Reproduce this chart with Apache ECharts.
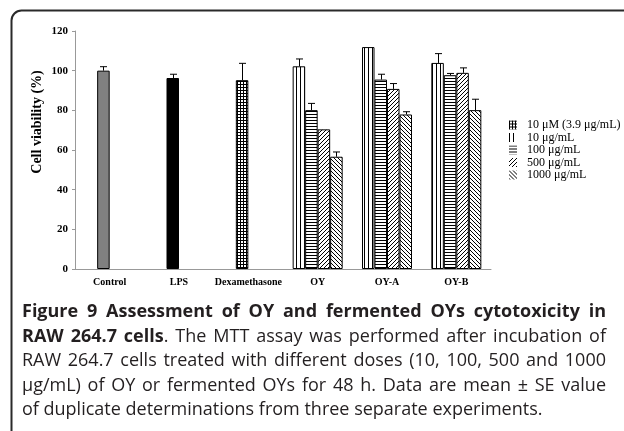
<!DOCTYPE html>
<html>
<head>
<meta charset="utf-8">
<script src="https://cdn.jsdelivr.net/npm/echarts@6/dist/echarts.min.js"></script>
<style>
  html, body { margin: 0; padding: 0; background: #fff; }
  #chart { position: absolute; left: 0; top: 0; width: 624px; height: 431px; }
  .caption {
    position: absolute; left: 22px; top: 298px; width: 584px;
    font-family: "Open Sans", sans-serif; font-size: 18px; line-height: 24.5px; color: #231f20;
  }
  .caption div { text-align: justify; text-align-last: justify; white-space: nowrap; }
  .caption div.last { text-align-last: left; }
  .caption b { font-weight: bold; }
</style>
</head>
<body>
<div id="chart"></div>
<div class="caption">
  <div><b>Figure 9 Assessment of OY and fermented OYs cytotoxicity in</b></div>
  <div><b>RAW 264.7 cells</b>. The MTT assay was performed after incubation of</div>
  <div>RAW 264.7 cells treated with different doses (10, 100, 500 and 1000</div>
  <div>μg/mL) of OY or fermented OYs for 48 h. Data are mean ± SE value</div>
  <div class="last">of duplicate determinations from three separate experiments.</div>
</div>
<script>
// data
const categories = ['Control', 'LPS', 'Dexamethasone', 'OY', 'OY-A', 'OY-B']
const yTicks = { min: 0, max: 120, interval: 20 }
const legendNames = ['10 μM (3.9 μg/mL)', '10 μg/mL', '100 μg/mL', '500 μg/mL', '1000 μg/mL']

const controlMean = [100.0, 96.3, '-', '-', '-', '-']
const controlSE = [2.0, 1.9, '-', '-', '-', '-']
const dexMean = ['-', '-', 95.2, '-', '-', '-']
const dexSE = ['-', '-', 8.5, '-', '-', '-']
const dose10Mean = ['-', '-', '-', 102.2, 111.9, 103.9]
const dose10SE = ['-', '-', '-', 3.7, 0, 4.7]
const dose100Mean = ['-', '-', '-', 80.1, 95.5, 97.7]
const dose100SE = ['-', '-', '-', 3.4, 2.7, 0.9]
const dose500Mean = ['-', '-', '-', 70.4, 90.8, 98.9]
const dose500SE = ['-', '-', '-', 0, 2.7, 2.5]
const dose1000Mean = ['-', '-', '-', 56.6, 77.9, 80.1]
const dose1000SE = ['-', '-', '-', 2.4, 1.4, 5.5]

const controlColors = ['#808080', '#000000']
const barW = 12.5
const serif = '"Liberation Serif", "Times New Roman", serif'

// hatch fills
function pattern(w, h, draw) {
  const c = document.createElement('canvas')
  c.width = w
  c.height = h
  const g = c.getContext('2d')
  g.fillStyle = '#fff'
  g.fillRect(0, 0, w, h)
  g.fillStyle = '#000'
  draw(g)
  return { image: c, repeat: 'repeat' }
}
const vertLines = pattern(4, 4, g => g.fillRect(0, 0, 1, 4))
const horizLines = pattern(4, 3, g => g.fillRect(0, 0, 4, 1))
const fwdDiag = pattern(4, 4, g => { for (let i = 0; i < 4; i++) g.fillRect(i, 3 - i, 1, 1) })
const backDiag = pattern(4, 4, g => { for (let i = 0; i < 4; i++) g.fillRect(i, i, 1, 1) })
const gridFill = pattern(3, 3, g => { g.fillRect(0, 0, 3, 1); g.fillRect(0, 0, 1, 3) })

// error bars: [category, slot, mean, se]
const errData = []
function addErr(means, ses, slot) {
  means.forEach((m, i) => {
    if (m !== '-' && ses[i] !== '-') errData.push([i, slot, m, ses[i]])
  })
}
addErr(controlMean, controlSE, 1)
addErr(dexMean, dexSE, 1)
addErr(dose10Mean, dose10SE, 0)
addErr(dose100Mean, dose100SE, 1)
addErr(dose500Mean, dose500SE, 2)
addErr(dose1000Mean, dose1000SE, 3)

const chart = echarts.init(document.getElementById('chart'), null, { renderer: 'canvas' })

const barBase = {
  type: 'bar',
  barWidth: barW,
  barGap: '0%',
  itemStyle: { borderColor: '#000', borderWidth: 1 }
}

chart.setOption({
  animation: false,
  backgroundColor: '#fff',
  grid: { left: 75, right: 133, top: 31, bottom: 162 },
  legend: {
    data: legendNames,
    orient: 'vertical',
    left: 504,
    top: 114,
    itemWidth: 8,
    itemHeight: 9,
    itemGap: 0.5,
    icon: 'rect',
    itemStyle: { borderWidth: 0 },
    textStyle: { fontFamily: serif, fontSize: 12, lineHeight: 12, color: '#000', padding: [0, 0, 0, 5] }
  },
  xAxis: {
    type: 'category',
    data: categories,
    axisLine: { lineStyle: { color: '#999', width: 1 } },
    axisTick: { inside: true, length: 3, lineStyle: { color: '#999' } },
    axisLabel: { interval: 0, fontFamily: serif, fontSize: 10, fontWeight: 'bold', color: '#000', margin: 8 }
  },
  yAxis: {
    type: 'value',
    min: yTicks.min,
    max: yTicks.max,
    interval: yTicks.interval,
    splitLine: { show: false },
    axisLine: { show: true, lineStyle: { color: '#999', width: 1 } },
    axisTick: { show: true, length: 3, lineStyle: { color: '#999' } },
    axisLabel: { fontFamily: serif, fontSize: 11, fontWeight: 'bold', color: '#000', margin: 7 }
  },
  graphic: [
    {
      type: 'rect',
      shape: { x: 11.5, y: 10.5, width: 700, height: 430, r: [10, 0, 0, 0] },
      style: { fill: 'none', stroke: '#2a2a2a', lineWidth: 2 }
    },
    {
      type: 'text',
      x: 37,
      y: 122,
      rotation: Math.PI / 2,
      style: {
        text: 'Cell viability (%)',
        fontFamily: serif,
        fontSize: 14,
        fontWeight: 'bold',
        fill: '#000',
        align: 'center',
        verticalAlign: 'middle'
      }
    }
  ],
  series: [
    Object.assign({}, barBase, {
      name: legendNames[1],
      data: dose10Mean,
      itemStyle: { color: vertLines, borderColor: '#000', borderWidth: 1 }
    }),
    Object.assign({}, barBase, {
      name: 'Controls',
      stack: 'slot2',
      data: controlMean.map((v, i) => v === '-' ? v : { value: v, itemStyle: { color: controlColors[i] } })
    }),
    Object.assign({}, barBase, {
      name: legendNames[0],
      stack: 'slot2',
      data: dexMean,
      itemStyle: { color: gridFill, borderColor: '#000', borderWidth: 1 }
    }),
    Object.assign({}, barBase, {
      name: legendNames[2],
      stack: 'slot2',
      data: dose100Mean,
      itemStyle: { color: horizLines, borderColor: '#000', borderWidth: 1 }
    }),
    Object.assign({}, barBase, {
      name: legendNames[3],
      data: dose500Mean,
      itemStyle: { color: fwdDiag, borderColor: '#000', borderWidth: 1 }
    }),
    Object.assign({}, barBase, {
      name: legendNames[4],
      data: dose1000Mean,
      itemStyle: { color: backDiag, borderColor: '#000', borderWidth: 1 }
    }),
    {
      type: 'custom',
      name: 'SE',
      data: errData,
      encode: { x: 0, y: 2 },
      z: 10,
      renderItem: function (params, api) {
        const cat = api.value(0)
        const slot = api.value(1)
        const mean = api.value(2)
        const se = api.value(3)
        if (!se) return null
        const base = api.coord([cat, mean])
        const top = api.coord([cat, mean + se])
        const x = Math.round(base[0] + (slot - 1.5) * barW) + 0.5
        const style = { stroke: '#000', lineWidth: 1 }
        return {
          type: 'group',
          children: [
            { type: 'line', shape: { x1: x, y1: base[1], x2: x, y2: top[1] }, style: style },
            { type: 'line', shape: { x1: x - 3.5, y1: top[1], x2: x + 3.5, y2: top[1] }, style: style }
          ]
        }
      }
    }
  ]
})
</script>
</body>
</html>
